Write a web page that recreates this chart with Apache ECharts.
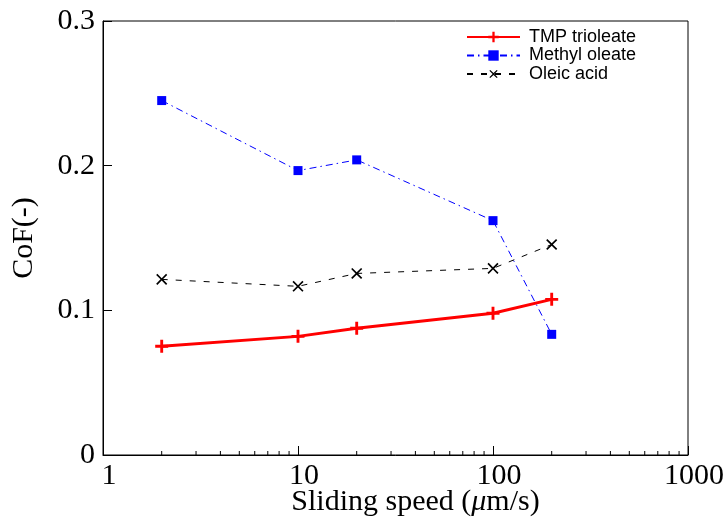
<!DOCTYPE html>
<html>
<head>
<meta charset="utf-8">
<script src="https://cdn.jsdelivr.net/npm/echarts@6/dist/echarts.min.js"></script>
<style>html,body{margin:0;padding:0;background:#fff}#c{width:724px;height:523px}</style>
</head>
<body>
<div id="c"></div>
<script>
var speeds = [2, 10, 20, 100, 200];
var tmpTrioleate = [0.0752, 0.0820, 0.0876, 0.0980, 0.1076];
var methylOleate = [0.2450, 0.1966, 0.2040, 0.1620, 0.0834];
var oleicAcid = [0.1214, 0.1166, 0.1255, 0.1290, 0.1455];
var seriesNames = ['TMP trioleate', 'Methyl oleate', 'Oleic acid'];
var minorTicks = [2,3,4,5,6,7,8,9,20,30,40,50,60,70,80,90,200,300,400,500,600,700,800,900];

function pairs(xs, ys) { return xs.map(function (x, i) { return [x, ys[i]]; }); }

var plusPath = 'path://M4.4,0h1.2v4.4h4.4v1.2h-4.4v4.4h-1.2v-4.4h-4.4v-1.2h4.4z';
var thickPlus = 'path://M3.9,0h2.2v3.9h3.9v2.2h-3.9v3.9h-2.2v-3.9h-3.9v-2.2h3.9z';

var chart = echarts.init(document.getElementById('c'));
chart.setOption({
  animation: false,
  backgroundColor: '#fff',
  grid: { left: 103, right: 36, top: 21, bottom: 68, show: true, borderColor: '#000', borderWidth: 1,
    containLabel: false, outerBoundsMode: 'none' },
  legend: {
    data: seriesNames,
    orient: 'vertical',
    left: 461, top: 23,
    itemWidth: 53, itemHeight: 13, itemGap: 0.5,
    textStyle: { fontFamily: 'Liberation Sans', fontSize: 18, lineHeight: 18, color: '#000', padding: [0, 0, 0, 4] }
  },
  xAxis: {
    type: 'log', logBase: 10, min: 1, max: 1000,
    name: '{n|Sliding speed (}{i|μ}{n|m/s)}',
    nameLocation: 'middle', nameGap: 32, nameMoveOverlap: false,
    nameTextStyle: {
      padding: [0, 0, 0, 40],
      rich: {
        n: { fontFamily: 'Liberation Serif', fontSize: 30, color: '#000' },
        i: { fontFamily: 'Liberation Serif', fontSize: 30, fontStyle: 'italic', color: '#000' }
      }
    },
    axisLine: { lineStyle: { color: '#000', width: 1 } },
    axisTick: { inside: true, length: 9, lineStyle: { color: '#000' } },
    axisLabel: { fontFamily: 'Liberation Serif', fontSize: 30, color: '#000', margin: 6,
      padding: [0, 0, 0, 12],
      formatter: function (v) { return String(Math.round(v)); } },
    splitLine: { show: false }
  },
  yAxis: {
    type: 'value', min: 0, max: 0.3, interval: 0.1,
    name: 'CoF(-)', nameLocation: 'middle', nameGap: 64, nameMoveOverlap: false,
    nameTextStyle: { fontFamily: 'Liberation Serif', fontSize: 30, color: '#000' },
    axisLine: { show: true, lineStyle: { color: '#000', width: 1 } },
    axisTick: { inside: true, length: 9, lineStyle: { color: '#000' } },
    axisLabel: { fontFamily: 'Liberation Serif', fontSize: 30, color: '#000', margin: 8,
      formatter: function (v) { return v === 0 ? '0' : v.toFixed(1); } },
    splitLine: { show: false }
  },
  series: [
    {
      name: seriesNames[0], type: 'line', data: pairs(speeds, tmpTrioleate),
      symbol: thickPlus, symbolSize: 13, z: 5,
      lineStyle: { color: '#ff0000', width: 3 },
      itemStyle: { color: '#ff0000' }
    },
    {
      name: seriesNames[1], type: 'line', data: pairs(speeds, methylOleate),
      symbol: 'rect', symbolSize: 9,
      lineStyle: { color: '#0000ff', width: 1, type: [7, 4, 1.5, 4] },
      itemStyle: { color: '#0000ff' }
    },
    {
      name: seriesNames[2], type: 'line', data: pairs(speeds, oleicAcid),
      symbol: plusPath, symbolSize: 14, symbolRotate: 45,
      lineStyle: { color: '#000', width: 1, type: [6, 8] },
      itemStyle: { color: '#000' }
    },
    {
      type: 'custom', silent: true, z: 1,
      data: minorTicks,
      renderItem: function (params, api) {
        var p = api.coord([api.value(0), 0]);
        return { type: 'line', shape: { x1: p[0], y1: p[1], x2: p[0], y2: p[1] - 4 },
          style: { stroke: '#000', lineWidth: 1 } };
      },
      encode: { x: 0 }
    }
  ]
});
</script>
</body>
</html>
